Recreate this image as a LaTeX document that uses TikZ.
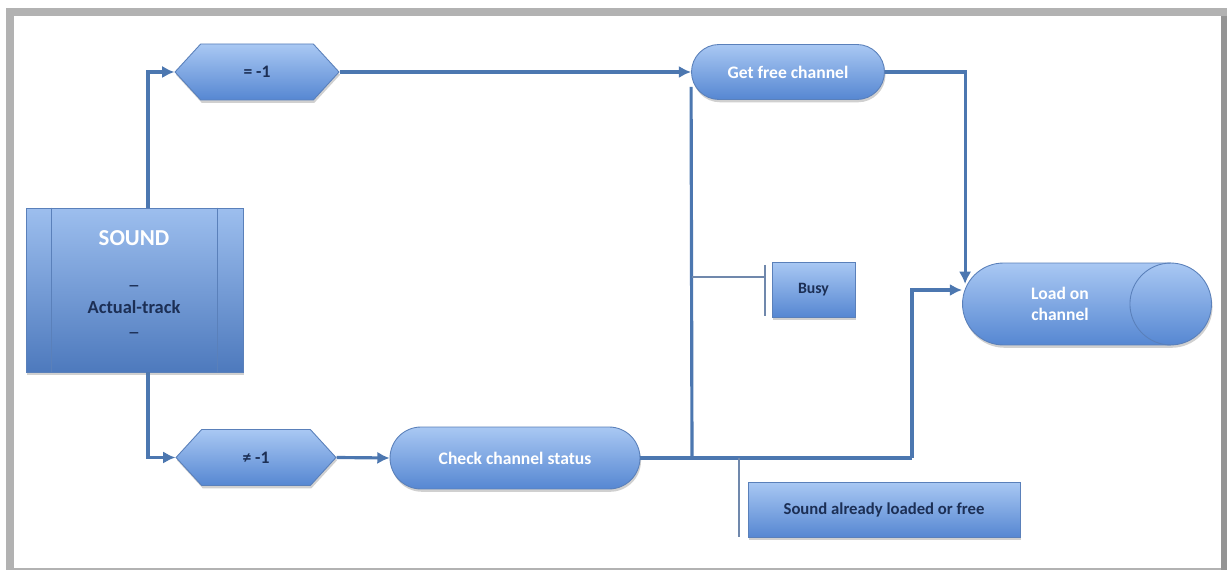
\documentclass[tikz,border=0pt]{standalone}
\usepackage{fontspec}
\setmainfont{Carlito}
\usetikzlibrary{shapes.misc,shapes.symbols,shadows,arrows.meta}
\definecolor{lineblue}{HTML}{4C77B0}
\definecolor{edgeblue}{HTML}{5A80BA}
\definecolor{topblue}{HTML}{A9C8F3}
\definecolor{botblue}{HTML}{5687D2}
\definecolor{darktext}{HTML}{1C2F55}
\definecolor{thinline}{HTML}{7088AC}
\tikzset{
  boxfill/.style={draw=edgeblue, line width=0.5pt, top color=topblue, bottom color=botblue,
    drop shadow={shadow xshift=0.6pt, shadow yshift=-1.6pt, opacity=0.3, fill=black!60},
    inner sep=0pt, font=\bfseries\fontsize{10}{12}\selectfont},
  roundbox/.style={boxfill, rounded rectangle, text=white},
  hexbox/.style={boxfill, signal, signal to=east and west, signal pointer angle=95, text=darktext},
  notebox/.style={boxfill, rectangle, text=darktext},
  flow/.style={draw=lineblue, line width=1.8pt},
  arr/.style={flow, -{Latex[length=7pt,width=7pt]}},
  thin/.style={draw=thinline, line width=0.6pt},
}
\begin{document}
\begin{tikzpicture}[x=0.02cm, y=-0.02cm]
\useasboundingbox (0,0) rectangle (1227,570);
% frame
\fill[gray!60] (6,8) rectangle (1227,570);
\fill[gray!95!black!80] (1221,16) rectangle (1227,570);
\fill[white] (14,16) rectangle (1221,568);

% nodes
\node[boxfill, rectangle, minimum width=4.34cm, minimum height=3.28cm,
      top color=topblue!85!botblue, bottom color=botblue!90!black] (sound) at (134.5,290) {};
\draw[thin, draw=edgeblue] ([xshift=0.52cm]sound.north west) -- ([xshift=0.52cm]sound.south west);
\draw[thin, draw=edgeblue] ([xshift=-0.52cm]sound.north east) -- ([xshift=-0.52cm]sound.south east);
\node[text=white, font=\bfseries\fontsize{13}{15}\selectfont] (t1) at (134,238) {SOUND};
\node[text=darktext, font=\bfseries\fontsize{10}{12}\selectfont, inner sep=0pt] (t2) at (134,286) {\_};
\node[text=darktext, font=\bfseries\fontsize{10.5}{12}\selectfont, inner sep=1pt] (t3) at (134,307) {Actual-track};
\node[text=darktext, font=\bfseries\fontsize{10}{12}\selectfont, inner sep=0pt] (t4) at (134,333) {\_};

\node[hexbox, minimum width=3.28cm, minimum height=1.12cm] (h1) at (257,72) {= -1};
\node[hexbox, minimum width=3.2cm, minimum height=1.12cm] (h2) at (256,457.5) {≠ -1};
\node[roundbox, minimum width=3.86cm, minimum height=1.1cm] (gfc) at (788,72) {Get free channel};
\node[roundbox, minimum width=5.0cm, minimum height=1.24cm] (ccs) at (515,458) {Check channel status};
\node[roundbox, minimum width=4.98cm, minimum height=1.64cm, align=center] (load) at (1087,304) {};
\node[text=white, font=\bfseries\fontsize{10}{12}\selectfont, align=center] (loadt) at (1060,304) {Load on\\channel};
\draw[draw=edgeblue, line width=0.5pt] ([shift={(-0.82cm,0.82cm)}]load.east) arc[start angle=90, end angle=270, radius=0.82cm];
\node[notebox, minimum width=1.66cm, minimum height=1.1cm, font=\bfseries\fontsize{9}{11}\selectfont] (busy) at (813.5,289.5) {Busy};
\node[notebox, minimum width=5.44cm, minimum height=1.1cm, font=\bfseries\fontsize{9.5}{11}\selectfont] (sal) at (884,509.5) {Sound already loaded or free};

% connectors
\coordinate (j1) at (692,458);
\coordinate (j2) at (912,458);
\coordinate (b1) at (692,277);
\coordinate (b2) at (765,277);
\coordinate (s1) at (739,458);
\coordinate (s2) at (739,537);
\draw[arr] ([xshift=0.27cm]sound.north) |- (h1.west);
\draw[arr] ([xshift=0.27cm]sound.south) |- (h2.west);
\draw[arr] (h1.east) -- (gfc.west);
\draw[arr] (h2.east) -- (ccs.west);
\draw[arr] (gfc.east) -| ([shift={(0.06cm,0.4cm)}]load.west);
\draw[flow] (ccs.east) -- (j2);
\draw[arr] (j2) |- ([yshift=0.28cm]load.west);
\draw[flow] (j1) -- ([yshift=-0.3cm]gfc.west);
\draw[thin] (b1) -- (b2);
\draw[thin] ([yshift=0.24cm]b2) -- ([yshift=-0.78cm]b2);
\draw[thin] (s1) -- (s2);
\end{tikzpicture}
\end{document}
